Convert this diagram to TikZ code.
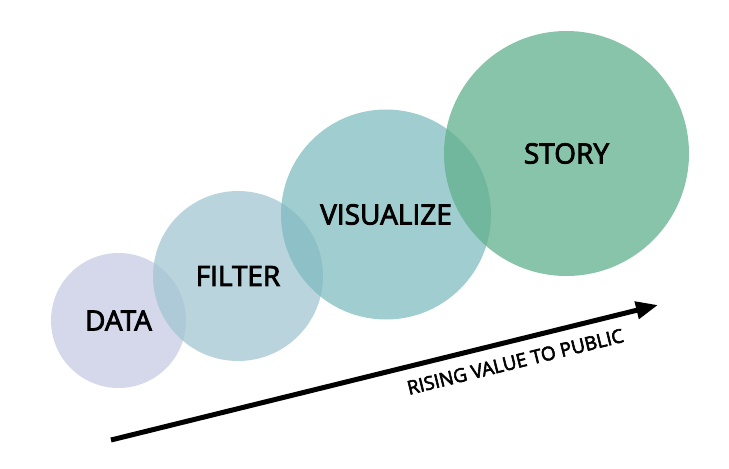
\documentclass[tikz,border=0pt]{standalone}
\usepackage{fontspec}
\setmainfont{Open Sans}
\newfontfamily\semifont{Open Sans}[FakeBold=3]
\usetikzlibrary{arrows.meta}
\definecolor{datacol}{RGB}{199,203,227}
\definecolor{filtercol}{RGB}{162,197,210}
\definecolor{viscol}{RGB}{128,188,192}
\definecolor{storycol}{RGB}{96,176,142}
\begin{document}
\begin{tikzpicture}[x=1pt, y=-1pt, stage/.style={circle, fill opacity=0.75, text opacity=1, inner sep=0pt, font=\semifont\fontsize{28}{34}\selectfont}]
    \useasboundingbox (0,0) rectangle (729,469);
    \node[stage, fill=datacol, minimum size=135pt] (data) at (118.5,320.5) {DATA};
    \node[stage, fill=filtercol, minimum size=170pt] (filter) at (238,276) {FILTER};
    \node[stage, fill=viscol, minimum size=210pt] (visualize) at (386,214.5) {VISUALIZE};
    \node[stage, fill=storycol, minimum size=245pt] (story) at (566.5,153.5) {STORY};
    \coordinate (low) at (111,440);
    \coordinate (high) at (658,305);
    \draw[line width=5pt, -{Triangle[length=22pt, width=17pt]}] (low) -- (high) node[pos=0.73, sloped, below=8pt, font=\semifont\fontsize{19}{22}\selectfont] (rising) {RISING VALUE TO PUBLIC};
\end{tikzpicture}
\end{document}
